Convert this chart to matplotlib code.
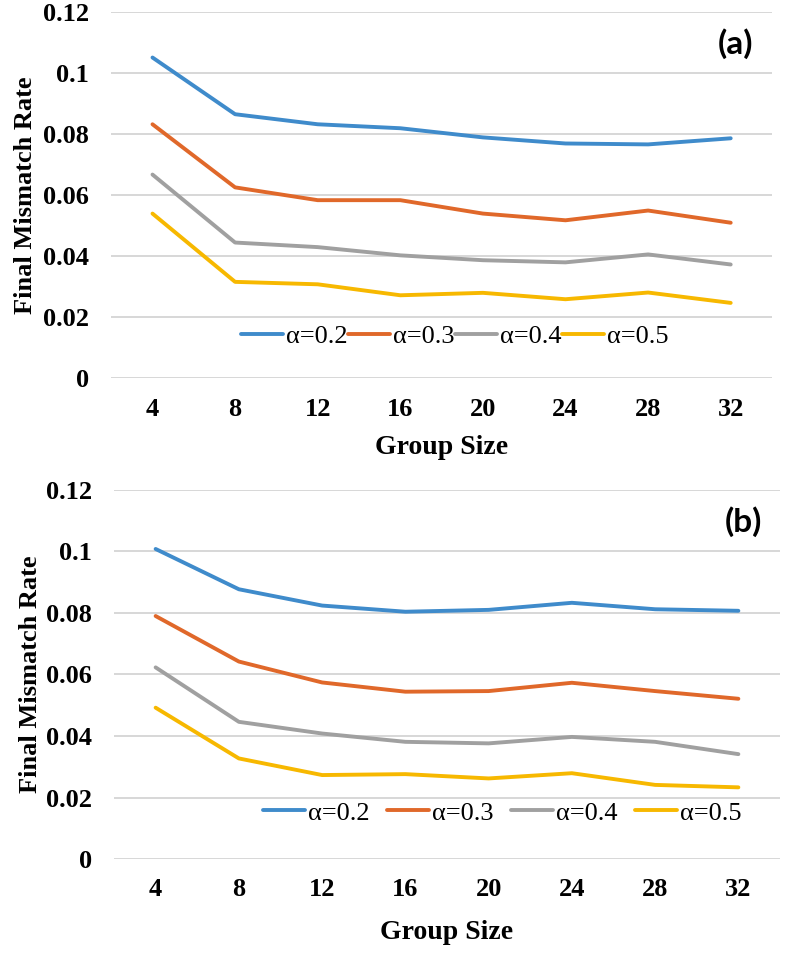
import numpy as np
import matplotlib.pyplot as plt

# data
group_size = ['4', '8', '12', '16', '20', '24', '28', '32']
labels = ['α=0.2', 'α=0.3', 'α=0.4', 'α=0.5']

a_02 = [0.1052, 0.0866, 0.0833, 0.0820, 0.0790, 0.0770, 0.0767, 0.0787]
a_03 = [0.0833, 0.0626, 0.0584, 0.0584, 0.0540, 0.0518, 0.0550, 0.0510]
a_04 = [0.0668, 0.0445, 0.0430, 0.0403, 0.0387, 0.0380, 0.0406, 0.0373]
a_05 = [0.0540, 0.0316, 0.0308, 0.0272, 0.0280, 0.0259, 0.0281, 0.0247]

b_02 = [0.1008, 0.0877, 0.0824, 0.0804, 0.0810, 0.0833, 0.0812, 0.0807]
b_03 = [0.0790, 0.0642, 0.0574, 0.0544, 0.0546, 0.0573, 0.0546, 0.0521]
b_04 = [0.0623, 0.0446, 0.0408, 0.0381, 0.0376, 0.0397, 0.0381, 0.0341]
b_05 = [0.0492, 0.0327, 0.0273, 0.0276, 0.0262, 0.0279, 0.0241, 0.0233]

colors = ['#3F8BCB', '#E0682A', '#A0A0A0', '#F7B800']

serif = ['Liberation Serif', 'DejaVu Serif']

fig = plt.figure(figsize=(8, 9.55), dpi=100)


def panel(ax, series, tag, leg_anchor, col_space, ylab_x, xlab_y):
    x = np.arange(len(group_size))
    for s, c, lab in zip(series, colors, labels):
        ax.plot(x, s, color=c, lw=2.8, label=lab, solid_capstyle='round')
    ax.set_xlim(-0.5, len(group_size) - 0.5)
    ax.set_ylim(0, 0.12)
    ax.set_yticks([0, 0.02, 0.04, 0.06, 0.08, 0.1, 0.12])
    ax.set_yticklabels(['0', '0.02', '0.04', '0.06', '0.08', '0.1', '0.12'])
    ax.set_xticks(x)
    ax.set_xticklabels(group_size)
    ax.grid(axis='y', color='#D4D4D4', lw=1.3)
    ax.set_axisbelow(True)
    for sp in ax.spines.values():
        sp.set_visible(False)
    ax.tick_params(axis='y', length=0, pad=16)
    ax.tick_params(axis='x', length=0, pad=14)
    for t in ax.get_xticklabels() + ax.get_yticklabels():
        t.set_family(serif)
        t.set_fontweight('bold')
        t.set_fontsize(19)
    ax.set_ylabel('Final Mismatch Rate', family=serif, fontweight='bold',
                  fontsize=19, va='center')
    ax.yaxis.set_label_coords(ylab_x, 0.5)
    ax.set_xlabel('Group Size', family=serif, fontweight='bold',
                  fontsize=20, va='center')
    ax.xaxis.set_label_coords(0.5, xlab_y)
    ax.text(0.945, 0.915, tag, transform=ax.transAxes, ha='center', va='center',
            family=['Lato', 'DejaVu Sans'], fontweight='bold', fontsize=24)
    leg = ax.legend(loc='center', bbox_to_anchor=leg_anchor, ncol=4,
                    frameon=False, handlelength=1.6, handletextpad=0.12,
                    columnspacing=col_space,
                    prop={'family': serif, 'size': 19})
    return leg


ax1 = fig.add_axes([0.139, 0.604, 0.826, 0.383])
panel(ax1, [a_02, a_03, a_04, a_05], '(a)', (0.52, 0.115), 0.0, -0.13, -0.189)

ax2 = fig.add_axes([0.1425, 0.1005, 0.8325, 0.3865])
panel(ax2, [b_02, b_03, b_04, b_05], '(b)', (0.583, 0.125), 0.65, -0.126, -0.2)

fig.savefig('out.png', dpi=100)
